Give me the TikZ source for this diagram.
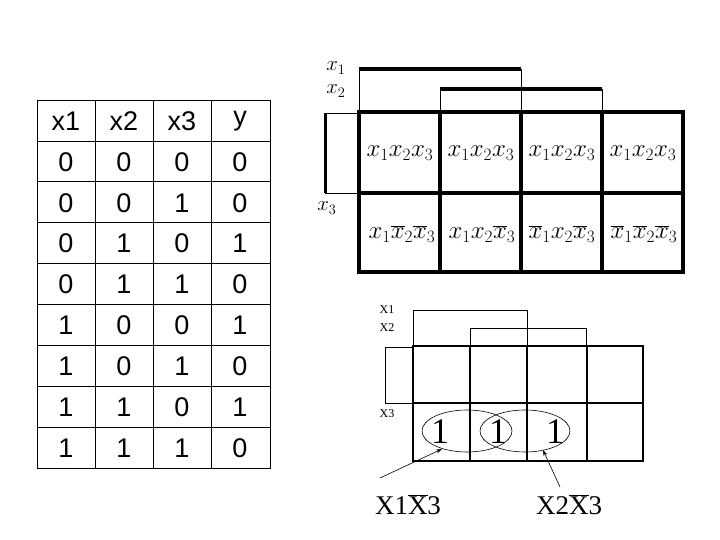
\documentclass[tikz,border=0pt]{standalone}
\usepackage{fontspec}
\setmainfont{Liberation Serif}
\newfontfamily\arialf{Liberation Sans}
\usetikzlibrary{arrows.meta}
\begin{document}
\begin{tikzpicture}[x=1pt,y=-1pt,
  thick map/.style={line width=3.5pt},
  thin map/.style={line width=0.7pt},
  tcell/.style={font=\arialf\fontsize{27}{27}\selectfont, anchor=center},
  mcell/.style={font=\fontsize{25}{25}\selectfont, anchor=center},
  lab/.style={font=\fontsize{22}{22}\selectfont, anchor=center},
  slab/.style={font=\fontsize{12}{12}\selectfont, anchor=center}]
\useasboundingbox (0,0) rectangle (720,540);
% truth table
\draw[line width=0.8pt] (37,100) rectangle (270,468);
\foreach \x in {95,153,211} \draw[line width=0.6pt] (\x,100) -- (\x,468);
\foreach \r in {1,...,8} \draw[line width=0.6pt] (37,{100+40.89*\r}) -- (270,{100+40.89*\r});
\foreach \a/\b/\c/\d [count=\r from 0] in {x1/x2/x3/y,0/0/0/0,0/0/1/0,0/1/0/1,0/1/1/0,1/0/0/1,1/0/1/0,1/1/0/1,1/1/1/0}{
  \pgfmathsetmacro\yy{121+40.89*\r}
  \node[tcell] (ta\r) at (66,\yy) {\a};
  \node[tcell] (tb\r) at (124,\yy) {\b};
  \node[tcell] (tc\r) at (182,\yy) {\c};
  \node[tcell] (td\r) at (240,\yy) {\d};
}
% top K-map
\draw[thick map] (359,112) rectangle (683,272);
\foreach \x in {440,521,602} \draw[thick map] (\x,112) -- (\x,272);
\draw[thick map] (359,193) -- (683,193);
\draw[thin map] (359,112) -- (359,69) (521,69) -- (521,112);
\draw[line width=4pt] (359,69) -- (521,69);
\draw[thin map] (440,112) -- (440,89) (602,89) -- (602,112);
\draw[line width=4pt] (440,89) -- (602,89);
\draw[thin map] (359,113) -- (325,113) (325,193) -- (359,193);
\draw[line width=3pt] (325,113) -- (325,193);
\node[lab] (lx1) at (336,68) {$x_1$};
\node[lab] (lx2) at (336,91) {$x_2$};
\node[lab] (lx3) at (327,208) {$x_3$};
\node[mcell] (m1) at (400,153) {$x_1x_2x_3$};
\node[mcell] (m2) at (481,153) {$x_1x_2x_3$};
\node[mcell] (m3) at (562,153) {$x_1x_2x_3$};
\node[mcell] (m4) at (643,153) {$x_1x_2x_3$};
\node[mcell] (m5) at (402,234) {$x_1\overline{x}_2\overline{x}_3$};
\node[mcell] (m6) at (482,234) {$x_1x_2\overline{x}_3$};
\node[mcell] (m7) at (562,234) {$\overline{x}_1x_2\overline{x}_3$};
\node[mcell] (m8) at (644,234) {$\overline{x}_1\overline{x}_2\overline{x}_3$};
% bottom K-map
\draw[line width=2.5pt] (413,346) rectangle (643,461);
\foreach \x in {470,527,587} \draw[line width=2.5pt] (\x,346) -- (\x,461);
\draw[line width=2.5pt] (413,403) -- (643,403);
\draw[line width=0.6pt] (413,346) -- (413,310) -- (527,310) -- (527,346);
\draw[line width=0.6pt] (470,346) -- (470,328) -- (586,328) -- (586,346);
\draw[line width=0.6pt] (413,347) -- (385,347) -- (385,403) -- (413,403);
\node[slab] (bx1) at (387,310) {X1};
\node[slab] (bx2) at (387,328) {X2};
\node[slab] (bx3) at (387,414) {X3};
\node[font=\fontsize{36}{36}\selectfont] (o1) at (440,432) {1};
\node[font=\fontsize{36}{36}\selectfont] (o2) at (498,432) {1};
\node[font=\fontsize{36}{36}\selectfont] (o3) at (555,432) {1};
\draw[line width=0.6pt] (467,431) ellipse [x radius=45, y radius=21];
\draw[line width=0.6pt] (525,431) ellipse [x radius=45, y radius=21];
\coordinate (e1) at (442,449);
\coordinate (e2) at (543,450);
\coordinate (s1) at (380,478);
\coordinate (s2) at (560,487);
\node[font=\fontsize{27}{27}\selectfont] (f1) at (408,505) {X1$\overline{\mathrm{X}}$3};
\node[font=\fontsize{27}{27}\selectfont] (f2) at (569,505) {X2$\overline{\mathrm{X}}$3};
\draw[-{Stealth[length=6pt,width=4pt]}, line width=0.6pt] (s1) -- (e1);
\draw[-{Stealth[length=6pt,width=4pt]}, line width=0.6pt] (s2) -- (e2);
\end{tikzpicture}
\end{document}
